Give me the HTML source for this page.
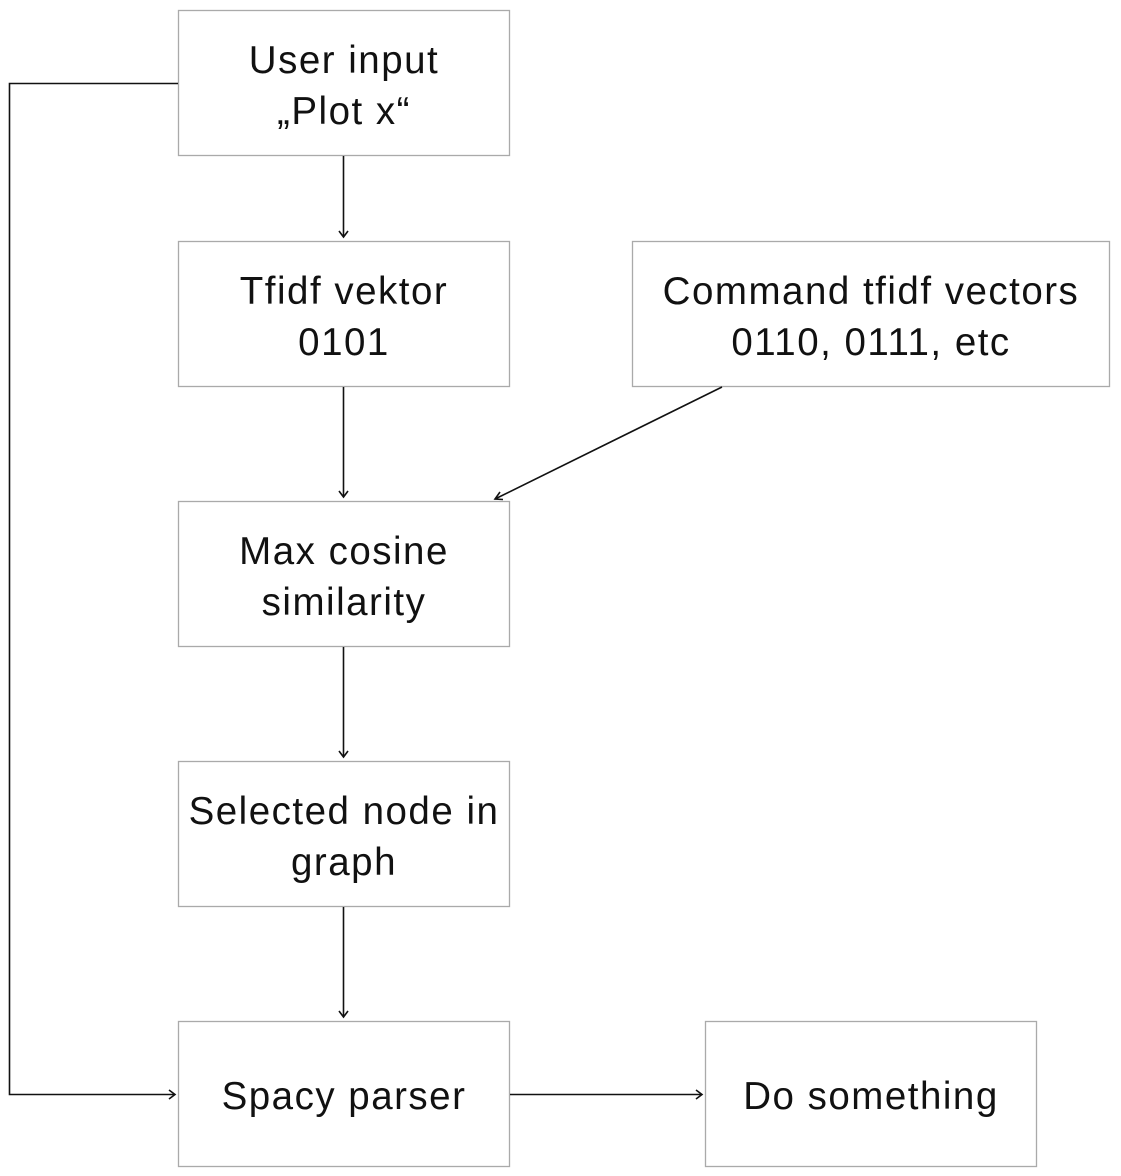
<!DOCTYPE html>
<html><head><meta charset="utf-8"><style>
html,body{margin:0;padding:0;background:#fff;}
body{width:1121px;height:1176px;position:relative;overflow:hidden;}
svg{position:absolute;left:0;top:0;}
text{font-family:"Liberation Sans",sans-serif;font-size:38.5px;fill:#111;text-anchor:middle;letter-spacing:1.5px;}
rect{fill:#fff;stroke:#aaa;stroke-width:1.3;}
line,polyline{stroke:#111;stroke-width:1.6;fill:none;}
</style></head><body>
<svg width="1121" height="1176" viewBox="0 0 1121 1176">
<rect x="178.5" y="10.5" width="331" height="145"/>
<rect x="178.5" y="241.5" width="331" height="145"/>
<rect x="632.5" y="241.5" width="477" height="145"/>
<rect x="178.5" y="501.5" width="331" height="145"/>
<rect x="178.5" y="761.5" width="331" height="145"/>
<rect x="178.5" y="1021.5" width="331" height="145"/>
<rect x="705.5" y="1021.5" width="331" height="145"/>

<text x="344" y="73">User input</text>
<text x="344" y="124">„Plot x“</text>
<text x="344" y="304">Tfidf vektor</text>
<text x="344" y="355">0101</text>
<text x="871" y="304">Command tfidf vectors</text>
<text x="871" y="355">0110, 0111, etc</text>
<text x="344" y="564">Max cosine</text>
<text x="344" y="615">similarity</text>
<text x="344" y="824">Selected node in</text>
<text x="344" y="875">graph</text>
<text x="344" y="1109">Spacy parser</text>
<text x="871" y="1109">Do something</text>

<line x1="343.5" y1="156" x2="343.5" y2="237"/>
<polyline points="339,231 343.5,237 348,231"/>
<line x1="343.5" y1="387" x2="343.5" y2="497"/>
<polyline points="339,491 343.5,497 348,491"/>
<line x1="343.5" y1="647" x2="343.5" y2="757"/>
<polyline points="339,751 343.5,757 348,751"/>
<line x1="343.5" y1="907" x2="343.5" y2="1017"/>
<polyline points="339,1011 343.5,1017 348,1011"/>
<line x1="722" y1="387" x2="495" y2="499"/>
<polyline points="500,492 495,499 503,499.5"/>
<polyline points="178,83.5 9.5,83.5 9.5,1094.5 175,1094.5"/>
<polyline points="169,1090 175,1094.5 169,1099"/>
<line x1="510" y1="1094.5" x2="702" y2="1094.5"/>
<polyline points="696,1090 702,1094.5 696,1099"/>
</svg>
</body></html>
